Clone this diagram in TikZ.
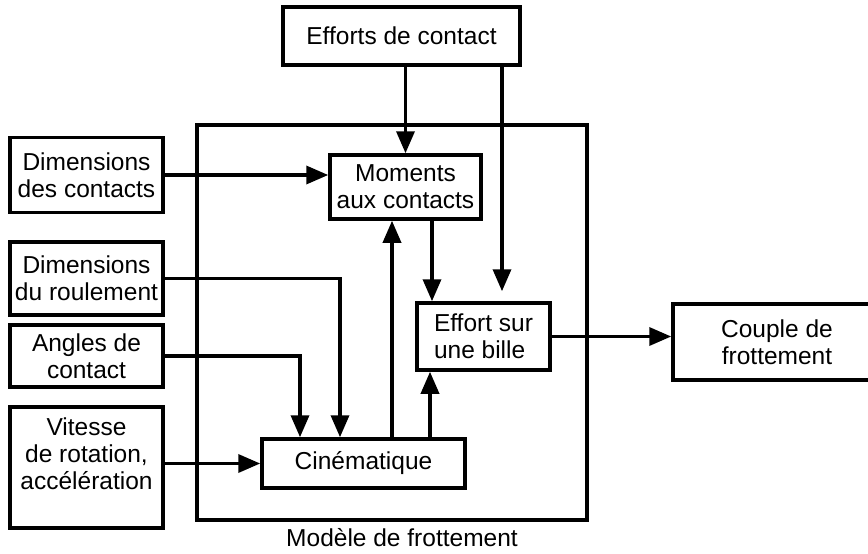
\documentclass[tikz,border=0pt]{standalone}
\usepackage{fontspec}
\setmainfont{Liberation Sans}
\usetikzlibrary{arrows.meta}

\begin{document}
\begin{tikzpicture}[x=1pt, y=-1pt, line width=3.5pt,
    box/.style={draw, inner sep=2pt, align=center,
      font=\fontsize{24.5}{27}\selectfont},
    arr/.style={-{Triangle[length=22pt, width=18pt]}}]
  \useasboundingbox (0,0) rectangle (868,554);

  % model frame
  \draw (197,125) rectangle (587,520);
  \node[font=\fontsize{24.5}{27}\selectfont] (modele) at (402,538) {Modèle de frottement};

  \node[box, minimum width=237, minimum height=58] (efforts) at (401.5,36) {Efforts de contact};
  \node[box, minimum width=153, minimum height=75] (dimcont) at (86.5,175) {Dimensions\\des contacts};
  \node[box, minimum width=153, minimum height=73] (dimroul) at (86.5,278.5) {Dimensions\\du roulement};
  \node[box, minimum width=153, minimum height=62] (angles) at (86.5,356) {Angles de\\contact};
  \node[box, minimum width=153, minimum height=121] (vitesse) at (86.5,467.5) {Vitesse\\de rotation,\\accélération\\\mbox{}};
  \node[box, minimum width=151, minimum height=64] (moments) at (405.5,187) {Moments\\aux contacts};
  \node[box, minimum width=133, minimum height=67, align=left] (effort) at (483.5,336.5) {Effort sur\\une bille};
  \node[box, minimum width=203, minimum height=49] (cinem) at (363.5,463.5) {Cinématique};
  \node[box, minimum width=208, minimum height=76] (couple) at (777,342) {Couple de\\frottement};

  \draw[arr] (moments.north |- efforts.south) -- (moments.north);
  \draw[arr, shorten >=10pt] ([xshift=100.5pt]efforts.south) -- ([xshift=18.5pt]effort.north);
  \draw[arr] (dimcont.east) -- (moments.west |- dimcont.east);
  \draw[arr] ([xshift=26.5pt]moments.south) -- ([xshift=26.5pt]moments.south |- effort.north);
  \draw[arr] ([xshift=28.5pt]cinem.north) -- ([xshift=28.5pt]cinem.north |- moments.south);
  \draw[arr] ([xshift=66.5pt]cinem.north) -- ([xshift=66.5pt]cinem.north |- effort.south);
  \draw[arr] (dimroul.east) -| ([xshift=-23.5pt]cinem.north);
  \draw[arr] (angles.east) -| ([xshift=-63.5pt]cinem.north);
  \draw[arr] (cinem.west -| vitesse.east) -- (cinem.west);
  \draw[arr] (effort.east) -- (couple.west |- effort.east);
\end{tikzpicture}
\end{document}
